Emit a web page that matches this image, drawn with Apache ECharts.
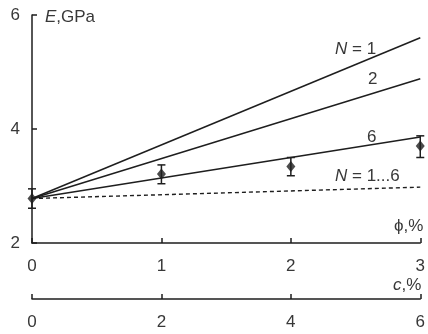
<!DOCTYPE html>
<html>
<head>
<meta charset="utf-8">
<script src="https://cdn.jsdelivr.net/npm/echarts@6/dist/echarts.min.js"></script>
<style>
  html, body { margin: 0; padding: 0; background: #fff; }
  #chart { width: 428px; height: 334px; }
</style>
</head>
<body>
<div id="chart"></div>
<script>
// Filler content phi (%) and equivalent concentration c (%)
const phiTicks = [0, 1, 2, 3];
const cTicks = [0, 2, 4, 6];
const yTicks = [2, 4, 6];

// Model lines: [phi, E] end points
const lineN1 = [[0, 2.78], [3, 5.6]];
const lineN2 = [[0, 2.78], [3, 4.88]];
const lineN6 = [[0, 2.78], [3, 3.86]];
const lineN1to6 = [[0, 2.78], [3, 2.98]];

// Measured points: phi, E, lower, upper
const measPhi = [0, 1, 2, 3];
const measE = [2.78, 3.21, 3.34, 3.70];
const measLow = [2.61, 3.04, 3.18, 3.50];
const measHigh = [2.95, 3.37, 3.50, 3.88];

const ink = '#1e1e1e';
const textColor = '#383838';
const font = '"Liberation Sans", Arial, sans-serif';
const fs = 17;

const chart = echarts.init(document.getElementById('chart'));

function lineSeries(data, dashed) {
  return {
    type: 'line', xAxisIndex: 0, yAxisIndex: 0,
    data: data, symbol: 'none', silent: true,
    lineStyle: { color: ink, width: dashed ? 1.4 : 1.5, type: dashed ? [4, 3] : 'solid' },
    z: 2
  };
}

function richLabel(italicPart, plainPart) {
  return {
    text: '{i|' + italicPart + '}{n|' + plainPart + '}',
    rich: {
      i: { fontStyle: 'italic', fontSize: fs, fontFamily: font, fill: textColor },
      n: { fontSize: fs, fontFamily: font, fill: textColor }
    }
  };
}

const points = measPhi.map((x, i) => [x, measE[i]]);
const bars = measPhi.map((x, i) => [x, measLow[i], measHigh[i]]);

chart.setOption({
  animation: false,
  grid: { left: 32, right: 7, top: 15, bottom: 91, containLabel: false },
  xAxis: [
    {
      type: 'value', min: 0, max: 3, interval: 1, position: 'bottom',
      axisLine: { onZero: false, lineStyle: { color: ink, width: 1.5 } },
      axisTick: { inside: true, length: 5, lineStyle: { color: ink, width: 1.5 } },
      axisLabel: { margin: 15, color: textColor, fontSize: fs, fontFamily: font,
        formatter: v => phiTicks.includes(v) ? String(v) : '' },
      splitLine: { show: false }
    },
    {
      type: 'value', min: 0, max: 6, interval: 2, position: 'bottom', offset: 56,
      axisLine: { onZero: false, lineStyle: { color: ink, width: 1.5 } },
      axisTick: { inside: true, length: 5, lineStyle: { color: ink, width: 1.5 } },
      axisLabel: { margin: 15, color: textColor, fontSize: fs, fontFamily: font,
        formatter: v => cTicks.includes(v) ? String(v) : '' },
      splitLine: { show: false }
    }
  ],
  yAxis: {
    type: 'value', min: 2, max: 6, interval: 2,
    axisLine: { show: true, onZero: false, lineStyle: { color: ink, width: 1.5 } },
    axisTick: { show: true, inside: true, length: 5, lineStyle: { color: ink, width: 1.5 } },
    axisLabel: { margin: 12, color: textColor, fontSize: fs, fontFamily: font,
      formatter: v => yTicks.includes(v) ? String(v) : '' },
    splitLine: { show: false }
  },
  series: [
    lineSeries(lineN1, false),
    lineSeries(lineN2, false),
    lineSeries(lineN6, false),
    lineSeries(lineN1to6, true),
    {
      type: 'custom', xAxisIndex: 0, yAxisIndex: 0, data: bars, clip: false, silent: true, z: 3,
      renderItem: function (params, api) {
        const x = api.value(0);
        const lo = api.coord([x, api.value(1)]);
        const hi = api.coord([x, api.value(2)]);
        const w = 4;
        const st = { stroke: ink, lineWidth: 1.5 };
        return {
          type: 'group',
          children: [
            { type: 'line', shape: { x1: lo[0], y1: lo[1], x2: hi[0], y2: hi[1] }, style: st },
            { type: 'line', shape: { x1: lo[0] - w, y1: lo[1], x2: lo[0] + w, y2: lo[1] }, style: st },
            { type: 'line', shape: { x1: hi[0] - w, y1: hi[1], x2: hi[0] + w, y2: hi[1] }, style: st }
          ]
        };
      }
    },
    {
      type: 'scatter', xAxisIndex: 0, yAxisIndex: 0, data: points, clip: false, silent: true,
      symbol: 'diamond', symbolSize: [9, 11], itemStyle: { color: ink }, z: 4
    }
  ],
  graphic: [
    { type: 'text', left: 45, top: 9, style: richLabel('E', ',GPa') },
    { type: 'text', left: 335, top: 41, style: richLabel('N', ' = 1') },
    { type: 'text', left: 368, top: 71, style: { text: '2', fontSize: fs, fontFamily: font, fill: textColor } },
    { type: 'text', left: 367, top: 129, style: { text: '6', fontSize: fs, fontFamily: font, fill: textColor } },
    { type: 'text', left: 335, top: 168, style: richLabel('N', ' = 1...6') },
    { type: 'text', left: 394, top: 218, style: { text: 'ϕ,%', fontSize: fs, fontFamily: font, fill: textColor } },
    { type: 'text', left: 393, top: 277, style: richLabel('c', ',%') }
  ]
});
</script>
</body>
</html>
